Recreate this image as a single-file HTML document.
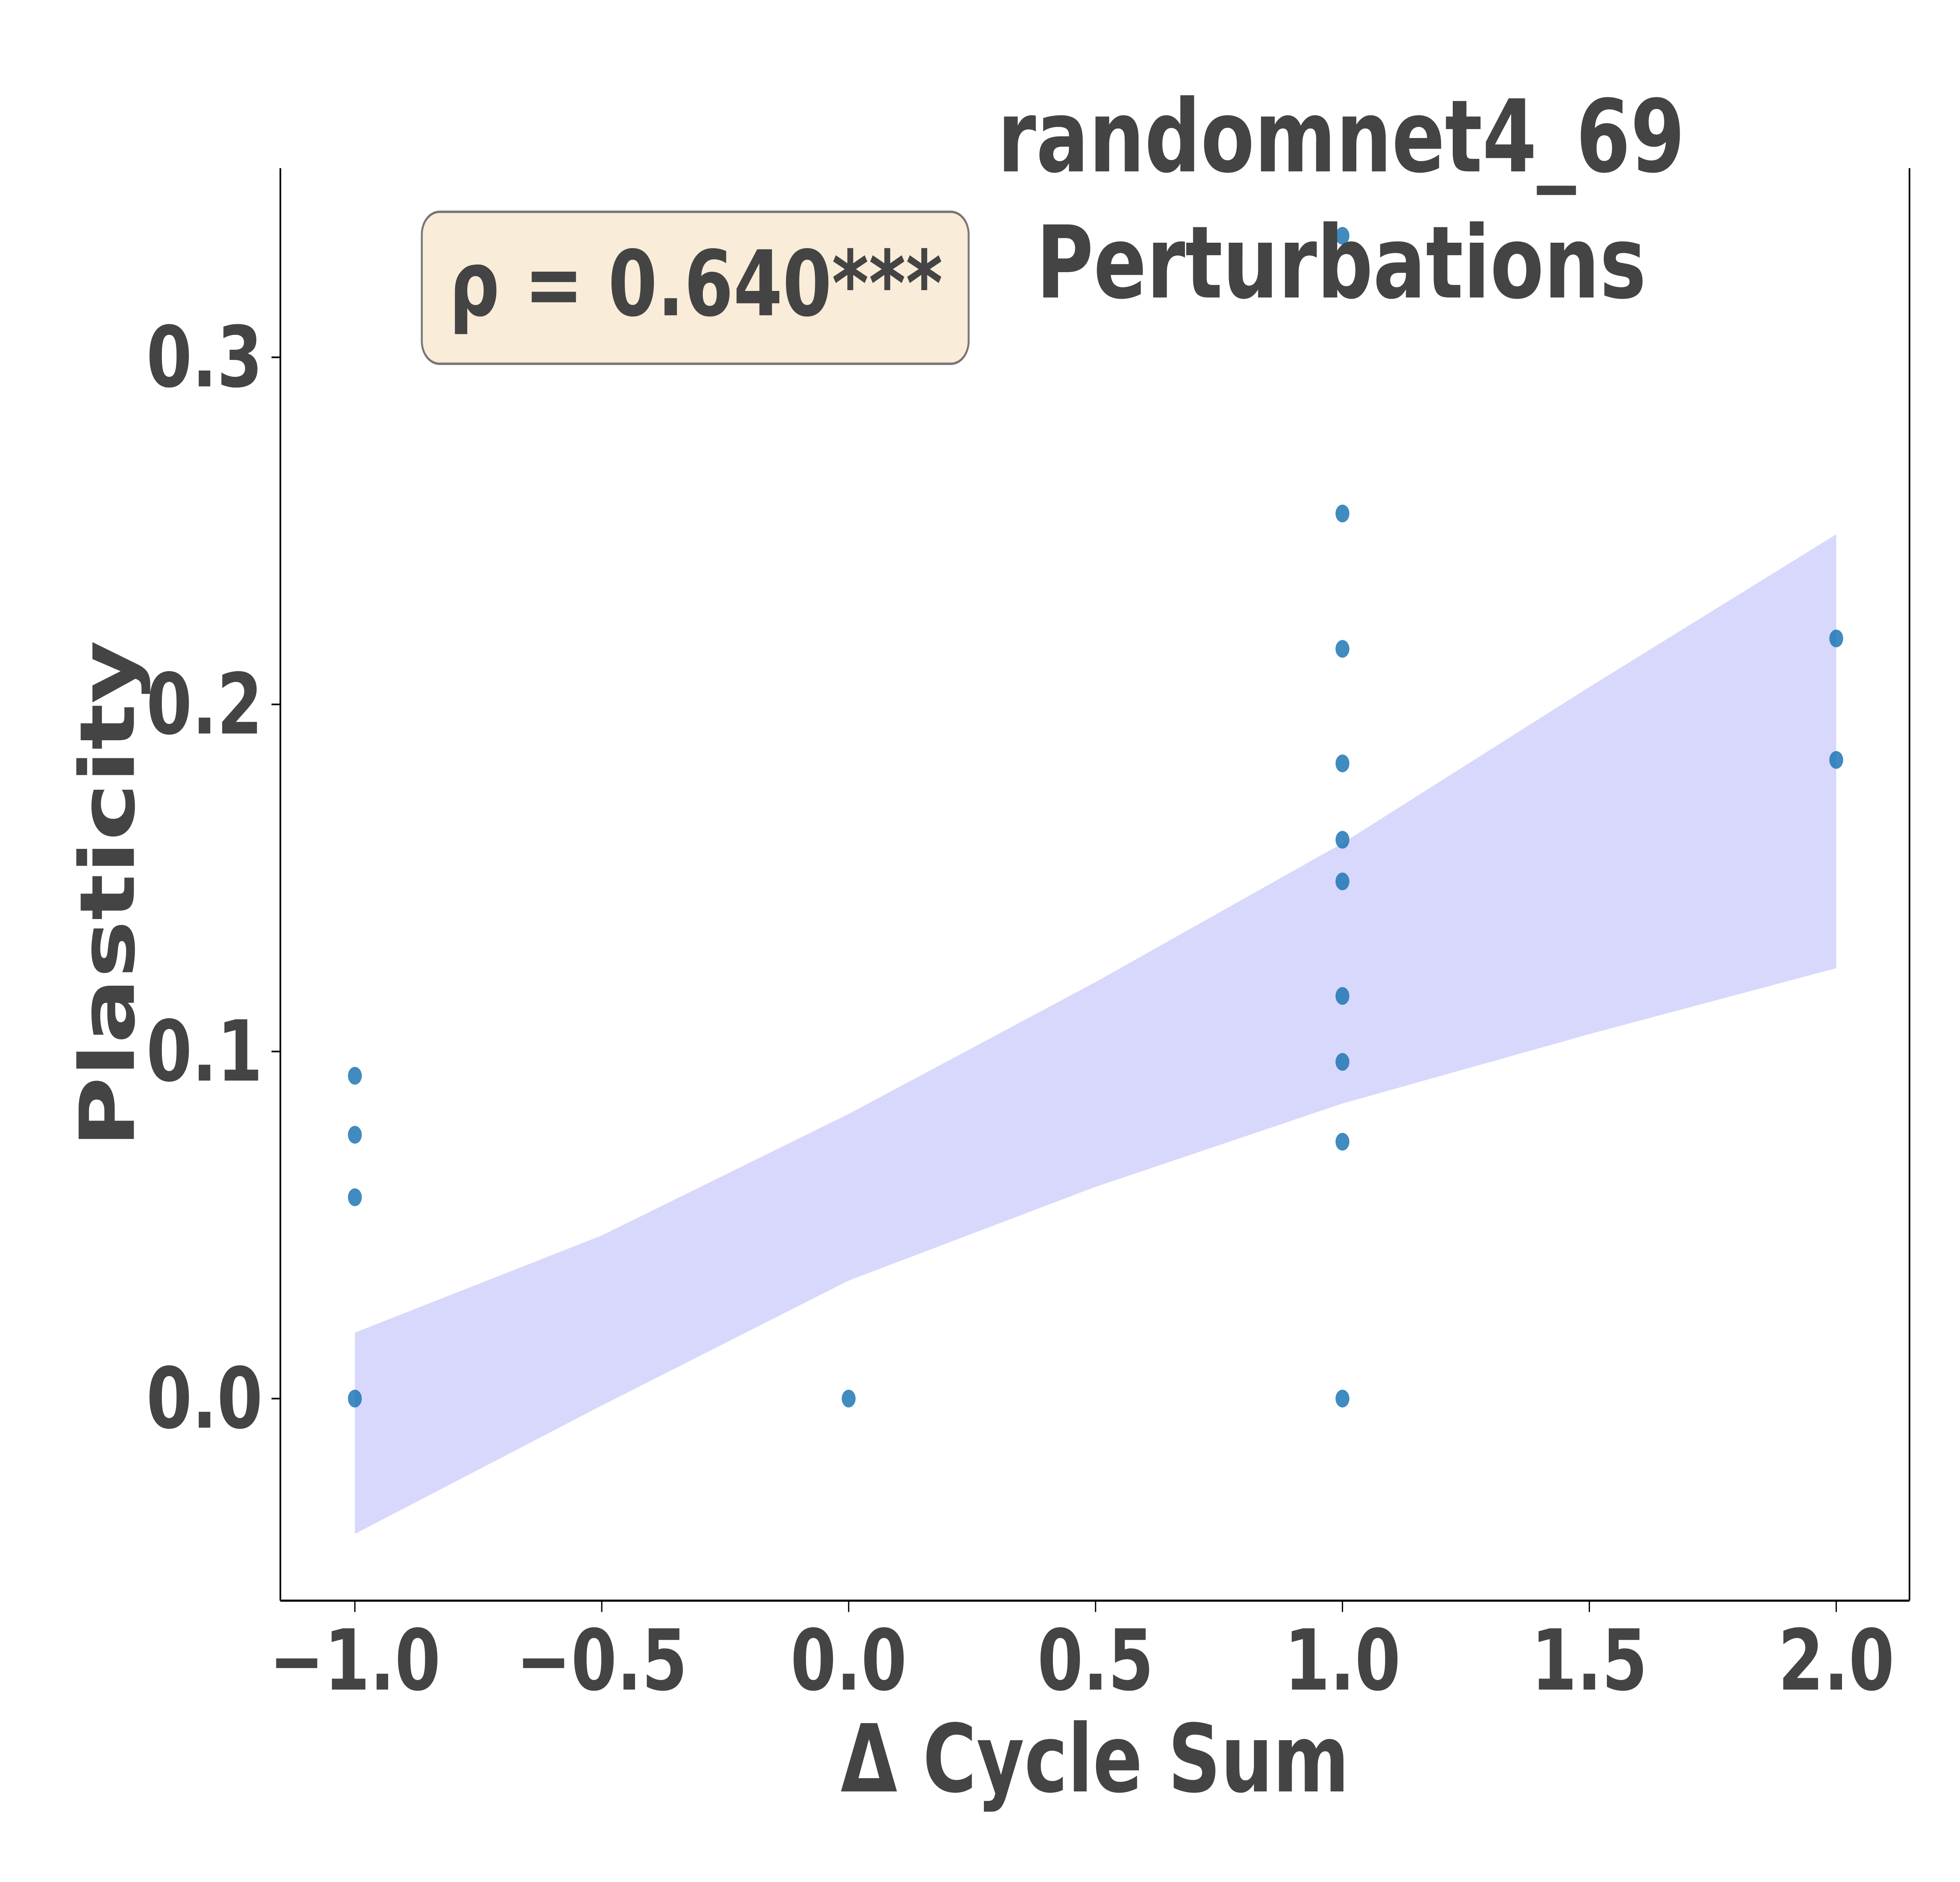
<!DOCTYPE html>
<html><head><meta charset="utf-8"><style>
html,body{margin:0;padding:0;background:#fff;width:100%;height:100%;overflow:hidden;}
svg{display:block;width:100vw;height:100vh;}
text{font-family:"DejaVu Sans","Liberation Sans",sans-serif;font-weight:bold;fill:#444;}
</style></head><body>
<svg id="chart" viewBox="0 0 1552 1164" preserveAspectRatio="none" xmlns="http://www.w3.org/2000/svg">
<g id="band"></g>
<g id="pts"></g>
<line x1="222" y1="104" x2="222" y2="990" stroke="#000" stroke-width="1.3"/>
<line x1="1512" y1="104" x2="1512" y2="990" stroke="#000" stroke-width="1.3"/>
<line x1="222" y1="990" x2="1512" y2="990" stroke="#000" stroke-width="1.3"/>
<g id="xt"></g>
<g id="yt"></g>
<text x="867" y="1108" font-size="58" text-anchor="middle">Δ Cycle Sum</text>
<text x="106" y="553" font-size="60" text-anchor="middle" transform="rotate(-90 106 553)">Plasticity</text>
<text x="1062" y="106" font-size="62" text-anchor="middle">randomnet4_69</text>
<text x="1062" y="184" font-size="62" text-anchor="middle">Perturbations</text>
<g>
<rect x="334" y="131" width="433" height="94" rx="14" fill="#f9ecd8" stroke="#777" stroke-width="1.5"/>
<text x="551" y="195" font-size="56" text-anchor="middle">ρ = 0.640***</text>
</g>
</svg>
<script>
const xs = [-1,-1,-1,-1,0,1,1,1,1,1,1,1,1,1,1,2,2];
const ys = [0.093,0.076,0.058,0,0,0.335,0.255,0.216,0.183,0.161,0.149,0.116,0.097,0.074,0,0.219,0.184];
const bandX = [-1,-0.5,0,0.5,1,1.5,2];
const bandUpper = [0.019,0.047,0.082,0.120,0.160,0.205,0.249];
const bandLower = [-0.039,-0.002,0.034,0.061,0.085,0.105,0.124];
const xTicks = [-1,-0.5,0,0.5,1,1.5,2];
const xTickLabels = ["−1.0","−0.5","0.0","0.5","1.0","1.5","2.0"];
const yTicks = [0,0.1,0.2,0.3];
const yTickLabels = ["0.0","0.1","0.2","0.3"];
const NS="http://www.w3.org/2000/svg";
function sx(v){return 281+(v+1)*391;}
function sy(v){return 865-v*2146.7;}
let d="";
bandX.forEach((x,i)=>{d+=(i?"L":"M")+sx(x)+","+sy(bandUpper[i]);});
for(let i=bandX.length-1;i>=0;i--) d+="L"+sx(bandX[i])+","+sy(bandLower[i]);
const p=document.createElementNS(NS,"path");


p.setAttribute("d",d+"Z");p.setAttribute("fill","#d8d8fc");
document.getElementById("band").appendChild(p);
xs.forEach((x,i)=>{
 const c=document.createElementNS(NS,"circle");
 
 
 c.setAttribute("cx",sx(x));c.setAttribute("cy",sy(ys[i]));c.setAttribute("r",5.5);
 c.setAttribute("fill","#1f77b4");c.setAttribute("fill-opacity","0.85");
 document.getElementById("pts").appendChild(c);
});
xTicks.forEach((t,i)=>{
 const l=document.createElementNS(NS,"line");
 
 
 l.setAttribute("x1",sx(t));l.setAttribute("x2",sx(t));l.setAttribute("y1",990);l.setAttribute("y2",997);l.setAttribute("stroke","#000");
 document.getElementById("xt").appendChild(l);
 const tx=document.createElementNS(NS,"text");
 
 
 tx.setAttribute("x",sx(t));tx.setAttribute("y",1045);tx.setAttribute("font-size","52");tx.setAttribute("text-anchor","middle");
 tx.textContent=xTickLabels[i];
 document.getElementById("xt").appendChild(tx);
});
yTicks.forEach((t,i)=>{
 const l=document.createElementNS(NS,"line");
 
 
 l.setAttribute("x1",215);l.setAttribute("x2",222);l.setAttribute("y1",sy(t));l.setAttribute("y2",sy(t));l.setAttribute("stroke","#000");
 document.getElementById("yt").appendChild(l);
 const tx=document.createElementNS(NS,"text");
 
 
 tx.setAttribute("x",208);tx.setAttribute("y",sy(t)+18);tx.setAttribute("font-size","52");tx.setAttribute("text-anchor","end");
 tx.textContent=yTickLabels[i];
 document.getElementById("yt").appendChild(tx);
});
</script>
</body></html>
